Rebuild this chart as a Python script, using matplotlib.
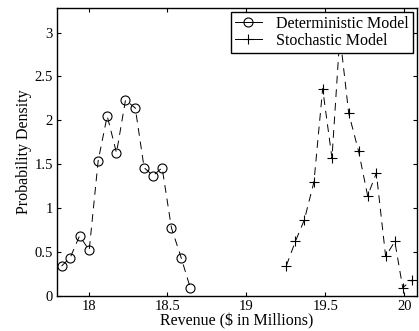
import numpy as np
import matplotlib.pyplot as plt

plt.rcParams['font.family'] = ['Liberation Serif', 'DejaVu Serif']

# deterministic model (circles)
det_x = [17.829, 17.884, 17.943, 18.004, 18.061, 18.118, 18.177, 18.234,
         18.296, 18.352, 18.409, 18.466, 18.525, 18.587, 18.644]
det_y = [0.34, 0.437, 0.684, 0.52, 1.54, 2.05, 1.63, 2.23,
         2.14, 1.46, 1.37, 1.46, 0.775, 0.433, 0.095]

# stochastic model (plus)
sto_x = [19.253, 19.31, 19.367, 19.428, 19.483, 19.542, 19.592, 19.648,
         19.711, 19.768, 19.823, 19.882, 19.94, 19.99, 20.05]
sto_y = [0.345, 0.62, 0.867, 1.30, 2.36, 1.57, 2.97, 2.08,
         1.645, 1.14, 1.40, 0.45, 0.62, 0.095, 0.18]

xticks = [18, 18.5, 19, 19.5, 20]
yticks = [0, 0.5, 1, 1.5, 2, 2.5, 3]

fig = plt.figure(figsize=(4.19, 3.31), dpi=100)
ax = fig.add_axes([0.136, 0.106, 0.859, 0.870])

dash = (0, (8, 6))
ax.plot(det_x, det_y, color='k', lw=0.7, ls=dash, marker='o', ms=6.5,
        mfc='none', mec='k', mew=0.8, label='Deterministic Model')
ax.plot(sto_x, sto_y, color='k', lw=0.7, ls=dash, marker='+', ms=7,
        mec='k', mew=0.8, label='Stochastic Model')

ax.set_xlim(17.8, 20.08)
ax.set_ylim(0, 3.28)
ax.set_xticks(xticks)
ax.set_xticklabels(['18', '18.5', '19', '19.5', '20'])
ax.set_yticks(yticks)
ax.set_yticklabels(['0', '0.5', '1', '1.5', '2', '2.5', '3'])
ax.tick_params(direction='in', top=True, right=True, labelsize=10.5, length=3,
               width=0.8, pad=3)
for s in ax.spines.values():
    s.set_linewidth(1.0)

ax.set_xlabel('Revenue ($ in Millions)', fontsize=11.5, labelpad=0)
ax.set_ylabel('Probability Density', fontsize=11.5, labelpad=2)

leg = ax.legend(loc='upper right', fontsize=11.5, frameon=True, fancybox=False,
                borderaxespad=0.25, handlelength=1.7, borderpad=0.25,
                labelspacing=0.05, handletextpad=0.9)
leg.get_frame().set_edgecolor('k')
leg.get_frame().set_linewidth(1.0)
leg.get_frame().set_alpha(1)
for h in leg.get_lines():
    h.set_linestyle('-')

fig.savefig('out.png', dpi=100)
